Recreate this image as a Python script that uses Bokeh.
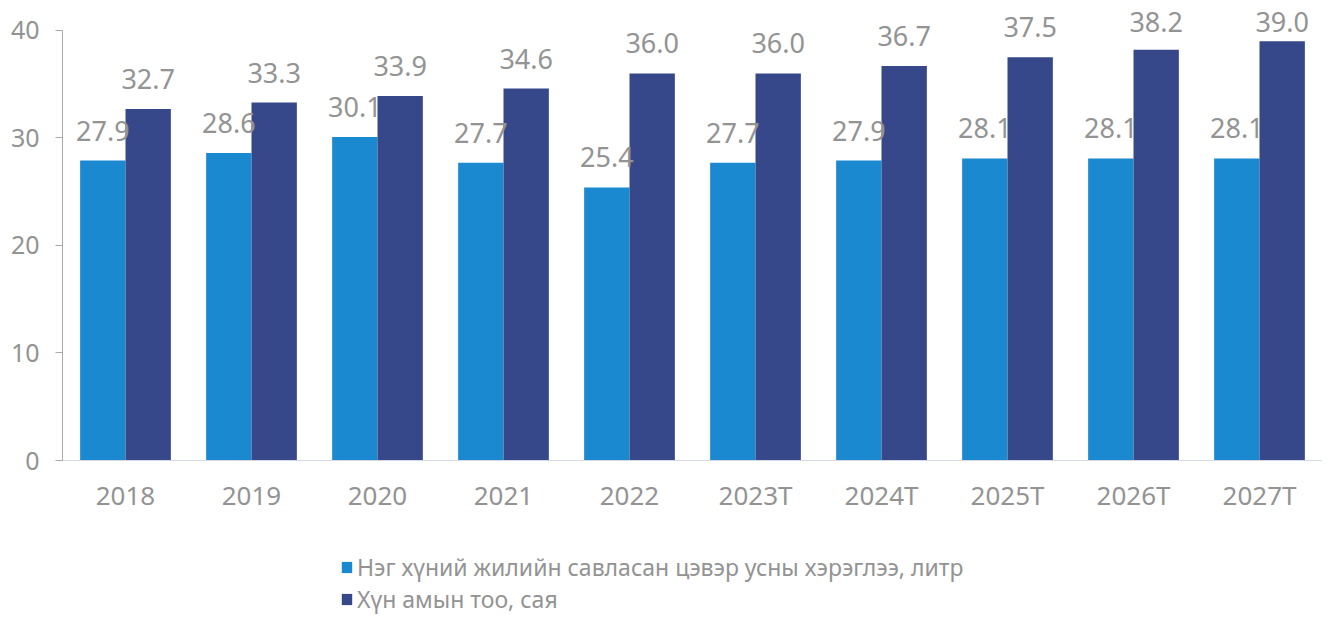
from bokeh.plotting import figure
from bokeh.models import ColumnDataSource, Legend, LegendItem, FixedTicker
from bokeh.layouts import column
from bokeh.transform import dodge
from bokeh.core.properties import value
from bokeh.embed import file_html
from bokeh.resources import INLINE

years = ["2018", "2019", "2020", "2021", "2022", "2023T", "2024T", "2025T", "2026T", "2027T"]
water = [27.9, 28.6, 30.1, 27.7, 25.4, 27.7, 27.9, 28.1, 28.1, 28.1]
population = [32.7, 33.3, 33.9, 34.6, 36.0, 36.0, 36.7, 37.5, 38.2, 39.0]
series_names = ["Нэг хүний жилийн савласан цэвэр усны хэрэглээ, литр", "Хүн амын тоо, сая"]
y_ticks = [0, 10, 20, 30, 40]

LIGHT = "#1b89d0"
DARK = "#36488a"
GRAY = "#939393"
FONT = "Noto Sans"

Y_END = 42.79
FRAME_H = 460
PPU = FRAME_H / Y_END


def label_offset(v):
    # keep the label 20px above its bar unless the top edge leaves less room
    room = (Y_END - v) * PPU - 31
    return -min(20.0, room)


src = ColumnDataSource(dict(
    year=years, water=water, pop=population,
    water_lbl=[f"{v:.1f}" for v in water],
    pop_lbl=[f"{v:.1f}" for v in population],
    water_off=[label_offset(v) for v in water],
    pop_off=[label_offset(v) for v in population],
))

p = figure(x_range=years, y_range=(0, Y_END), width=1322, height=520,
           output_backend="svg", toolbar_location=None,
           min_border_left=62, min_border_right=0, min_border_top=0, min_border_bottom=60)
p.outline_line_color = None
p.grid.grid_line_color = None

bw = 0.36
r1 = p.vbar(x=dodge("year", -bw / 2, range=p.x_range), top="water", width=bw,
            source=src, fill_color=LIGHT, line_color=None)
r2 = p.vbar(x=dodge("year", bw / 2, range=p.x_range), top="pop", width=bw,
            source=src, fill_color=DARK, line_color=None)

for col, lbl, off, dx in (("water", "water_lbl", "water_off", -bw / 2),
                          ("pop", "pop_lbl", "pop_off", bw / 2)):
    p.text(x=dodge("year", dx, range=p.x_range), y=col, text=lbl, source=src,
           text_align="center", text_baseline="bottom", y_offset=off,
           text_color=GRAY, text_font=value(FONT), text_font_size="27px")

p.yaxis.ticker = FixedTicker(ticks=y_ticks)
p.yaxis.bounds = (0, 40)
p.yaxis.axis_line_color = "#aaaaaa"
p.yaxis.major_tick_line_color = "#aaaaaa"
p.yaxis.major_tick_out = 7
p.yaxis.major_tick_in = 0
p.yaxis.minor_tick_line_color = None
p.yaxis.major_label_text_color = GRAY
p.yaxis.major_label_text_font = FONT
p.yaxis.major_label_text_font_size = "25px"
p.yaxis.major_label_standoff = 16

p.xaxis.axis_line_color = "#d5d9e3"
p.xaxis.major_tick_line_color = None
p.xaxis.major_label_text_color = GRAY
p.xaxis.major_label_text_font = FONT
p.xaxis.major_label_text_font_size = "26px"
p.xaxis.major_label_standoff = 10

# legend panel
lg = figure(width=1322, height=98, output_backend="svg", toolbar_location=None,
            x_range=(0, 1), y_range=(0, 1),
            min_border_left=0, min_border_right=0, min_border_top=0, min_border_bottom=0)
lg.axis.visible = False
lg.grid.grid_line_color = None
lg.outline_line_color = None
g1 = lg.vbar(x=[-5], top=[-5], width=0.1, fill_color=LIGHT, line_color=None)
g2 = lg.vbar(x=[-5], top=[-5], width=0.1, fill_color=DARK, line_color=None)

legend = Legend(items=[LegendItem(label=series_names[0], renderers=[g1]),
                       LegendItem(label=series_names[1], renderers=[g2])],
                location=(278, 3), orientation="vertical",
                border_line_color=None, background_fill_alpha=0,
                padding=0, margin=0, spacing=0,
                glyph_width=13, glyph_height=14, label_height=26,
                label_standoff=4,
                label_text_color=GRAY, label_text_font=FONT, label_text_font_size="23px")
lg.add_layout(legend, "center")

open("out.html", "w").write(file_html(column(p, lg, spacing=0), INLINE))
